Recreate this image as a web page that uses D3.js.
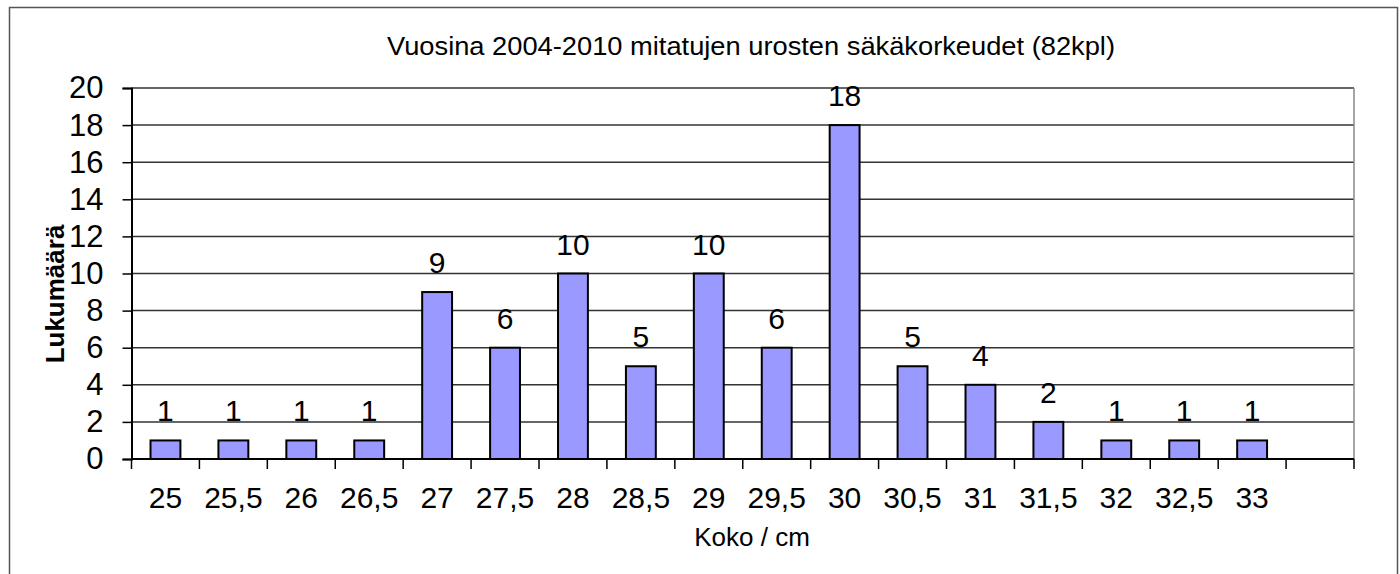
<!DOCTYPE html>
<html>
<head>
<meta charset="utf-8">
<script src="https://cdn.jsdelivr.net/npm/d3@7"></script>
<style>
  body { margin: 0; background: #fff; }
  text { font-family: "Liberation Sans", Arial, sans-serif; fill: #000; }
</style>
</head>
<body>
<div id="chart"></div>
<script>
// data
const categories = ["25", "25,5", "26", "26,5", "27", "27,5", "28", "28,5", "29", "29,5",
                    "30", "30,5", "31", "31,5", "32", "32,5", "33", ""];
const counts = [1, 1, 1, 1, 9, 6, 10, 5, 10, 6, 18, 5, 4, 2, 1, 1, 1, null];
const yTicks = [0, 2, 4, 6, 8, 10, 12, 14, 16, 18, 20];
const title = "Vuosina 2004-2010 mitatujen  urosten säkäkorkeudet  (82kpl)";
const xTitle = "Koko / cm";
const yTitle = "Lukumäärä";

(function () {
    const width = 1400, height = 574;
    const plot = { left: 131.5, right: 1354, top: 88, bottom: 459 };

    const svg = d3.select("#chart").append("svg")
        .attr("width", width).attr("height", height);

    // outer frame (no bottom edge visible)
    svg.append("path")
        .attr("d", `M9.5,${height} V7.5 H1397.5 V${height}`)
        .attr("fill", "none").attr("stroke", "#555").attr("stroke-width", 1.5);

    const x = d3.scaleBand().domain(categories.map((c, i) => i))
        .range([plot.left, plot.right]).paddingInner(0.56).paddingOuter(0.28);
    const y = d3.scaleLinear().domain([0, 20]).range([plot.bottom, plot.top]);

    // gridlines
    svg.append("g").selectAll("line").data(yTicks.slice(1)).enter().append("line")
        .attr("x1", plot.left).attr("x2", plot.right)
        .attr("y1", d => y(d)).attr("y2", d => y(d))
        .attr("stroke", "#333").attr("stroke-width", 1.5);

    // right plot edge
    svg.append("line")
        .attr("x1", plot.right).attr("x2", plot.right)
        .attr("y1", plot.top).attr("y2", plot.bottom)
        .attr("stroke", "#888").attr("stroke-width", 1.5);

    // y axis
    const yAxis = svg.append("g")
        .attr("transform", `translate(${plot.left},0)`)
        .call(d3.axisLeft(y).tickValues(yTicks).tickSize(9).tickPadding(19));
    yAxis.select(".domain").attr("stroke", "#000").attr("stroke-width", 2);
    yAxis.selectAll(".tick line").attr("stroke", "#000").attr("stroke-width", 1.5);
    yAxis.selectAll(".tick text").attr("font-size", 31)
        .attr("font-family", "Liberation Sans, Arial, sans-serif").attr("fill", "#000");

    // x axis: ticks between categories
    const step = x.step();
    const xAxisG = svg.append("g");
    xAxisG.append("line")
        .attr("x1", plot.left).attr("x2", plot.right)
        .attr("y1", plot.bottom).attr("y2", plot.bottom)
        .attr("stroke", "#000").attr("stroke-width", 2);
    xAxisG.selectAll(".xt").data(d3.range(categories.length + 1)).enter().append("line")
        .attr("x1", i => plot.left + i * step).attr("x2", i => plot.left + i * step)
        .attr("y1", plot.bottom).attr("y2", plot.bottom + 10)
        .attr("stroke", "#000").attr("stroke-width", 1.5);
    xAxisG.selectAll(".xl").data(categories).enter().append("text")
        .attr("x", (d, i) => x(i) + x.bandwidth() / 2)
        .attr("y", 508)
        .attr("text-anchor", "middle").attr("font-size", 30)
        .text(d => d);

    // bars
    const barData = counts.map((v, i) => ({ i, v })).filter(d => d.v != null);
    svg.append("g").selectAll("rect").data(barData).enter().append("rect")
        .attr("x", d => x(d.i)).attr("width", x.bandwidth())
        .attr("y", d => y(d.v)).attr("height", d => y(0) - y(d.v))
        .attr("fill", "#9999ff").attr("stroke", "#000").attr("stroke-width", 2);

    // value labels
    svg.append("g").selectAll("text").data(barData).enter().append("text")
        .attr("x", d => x(d.i) + x.bandwidth() / 2)
        .attr("y", d => y(d.v) - 19)
        .attr("text-anchor", "middle").attr("font-size", 30)
        .text(d => d.v);

    // titles
    svg.append("text")
        .attr("x", 751).attr("y", 55)
        .attr("text-anchor", "middle").attr("font-size", 25)
        .attr("textLength", 728).attr("lengthAdjust", "spacingAndGlyphs")
        .text(title);

    svg.append("text")
        .attr("x", 752).attr("y", 546)
        .attr("text-anchor", "middle").attr("font-size", 26)
        .text(xTitle);

    svg.append("text")
        .attr("transform", "translate(64,294) rotate(-90)")
        .attr("text-anchor", "middle").attr("font-size", 26).attr("font-weight", "bold")
        .text(yTitle);
})();
</script>
</body>
</html>
